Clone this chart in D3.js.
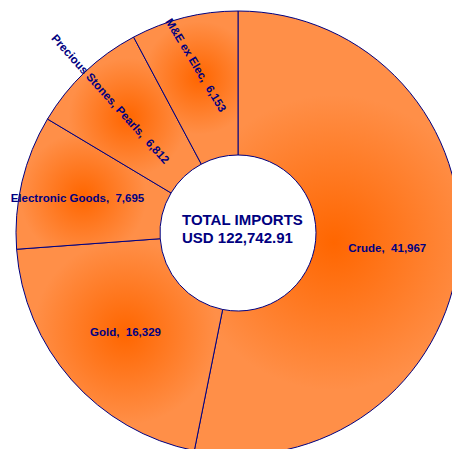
<!DOCTYPE html>
<html>
<head>
<meta charset="utf-8">
<script src="https://cdn.jsdelivr.net/npm/d3@7"></script>
<style>
  html, body { margin: 0; padding: 0; background: #ffffff; }
  svg { display: block; }
  text { font-family: "Liberation Sans", Arial, sans-serif; white-space: pre; }
</style>
</head>
<body>
<svg id="chart" width="452" height="449"></svg>
<script>
// Import categories and values (USD million)
const categories = ["Crude", "Gold", "Electronic Goods", "Precious Stones, Pearls", "M&E ex Elec"];
const values = [41967, 16329, 7695, 6812, 6153];
const totalLabel = ["TOTAL IMPORTS", "USD 122,742.91"];

const width = 452, height = 449;
const cx = 238, cy = 233;
const outerR = 222, innerR = 78;

const svg = d3.select("#chart");
const defs = svg.append("defs");
const g = svg.append("g").attr("transform", `translate(${cx},${cy})`);

const pie = d3.pie().sort(null).value(d => d.value).startAngle(0).endAngle(2 * Math.PI);
const data = categories.map((c, i) => ({ name: c, value: values[i] }));
const arcs = pie(data);

const arc = d3.arc().innerRadius(innerR).outerRadius(outerR);

// Centroid of an annular sector, used as the centre of each slice's shading
function areaCentroid(d) {
  const a = (d.endAngle - d.startAngle) / 2;
  const mid = (d.startAngle + d.endAngle) / 2;
  const rc = (2 / 3) * (Math.pow(outerR, 3) - Math.pow(innerR, 3)) /
             (outerR * outerR - innerR * innerR) * Math.sin(a) / a;
  return [rc * Math.sin(mid), -rc * Math.cos(mid)];
}

arcs.forEach((d, i) => {
  const [gx, gy] = areaCentroid(d);
  const area = (d.endAngle - d.startAngle) / 2 * (outerR * outerR - innerR * innerR);
  const grad = defs.append("radialGradient")
    .attr("id", "grad" + i)
    .attr("gradientUnits", "userSpaceOnUse")
    .attr("cx", gx).attr("cy", gy)
    .attr("fx", gx).attr("fy", gy)
    .attr("r", 0.55 * Math.sqrt(area));
  grad.append("stop").attr("offset", "0%").attr("stop-color", "#ff6600");
  grad.append("stop").attr("offset", "100%").attr("stop-color", "#ff8f48");
});

g.selectAll("path.slice")
  .data(arcs)
  .join("path")
  .attr("class", "slice")
  .attr("d", arc)
  .attr("fill", (d, i) => `url(#grad${i})`)
  .attr("stroke", "#000080")
  .attr("stroke-width", 1);

// Label placement: radius along the slice's mid-angle, and whether the text turns along the radius
const labelRadius = { "Crude": 150, "Gold": 150, "Electronic Goods": 165,
                      "Precious Stones, Pearls": 185, "M&E ex Elec": 173 };
const labelShiftY = { "Electronic Goods": 3 };
const labelTurn = { "Precious Stones, Pearls": 1.5, "M&E ex Elec": -17 };
const fmt = d3.format(",");

g.selectAll("text.label")
  .data(arcs)
  .join("text")
  .attr("class", "label")
  .attr("transform", d => {
    const mid = (d.startAngle + d.endAngle) / 2;
    const r = labelRadius[d.data.name];
    const x = r * Math.sin(mid), y = -r * Math.cos(mid) + (labelShiftY[d.data.name] || 0);
    if (d.data.name in labelTurn) {
      const rot = mid * 180 / Math.PI - 270 + labelTurn[d.data.name];
      return `translate(${x},${y}) rotate(${rot})`;
    }
    return `translate(${x},${y})`;
  })
  .attr("text-anchor", "middle")
  .attr("dy", "0.35em")
  .attr("fill", "#000080")
  .attr("font-size", 11.5)
  .attr("font-weight", "bold")
  .text(d => `${d.data.name},  ${fmt(d.data.value)}`);

// Centre caption
const caption = svg.append("text")
  .attr("x", 182)
  .attr("fill", "#000080")
  .attr("font-size", 15)
  .attr("font-weight", "bold");
caption.selectAll("tspan")
  .data(totalLabel)
  .join("tspan")
  .attr("x", 182)
  .attr("y", (d, i) => 225 + i * 18)
  .text(d => d);
</script>
</body>
</html>
